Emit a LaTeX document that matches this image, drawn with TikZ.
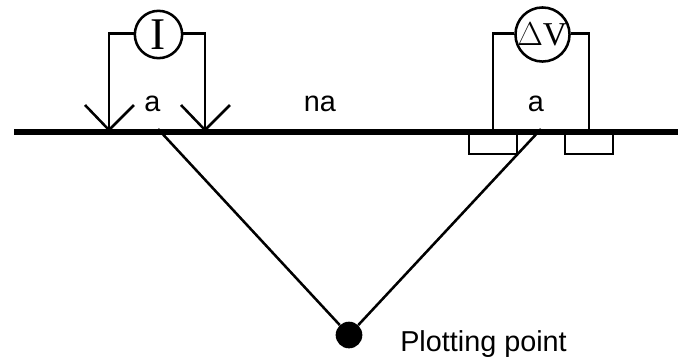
\documentclass[tikz,border=0pt]{standalone}
\usepackage{fontspec}
\setmainfont{Liberation Sans}
\newfontfamily\metfont{Liberation Serif}
\tikzset{
  wire/.style={draw=black,line width=1.9pt},
  ground/.style={draw=black,line width=4.3pt},
  meter/.style={circle,draw=black,line width=1.9pt,fill=white,inner sep=0pt,minimum size=35.5pt,font=\metfont},
  lab/.style={inner sep=0pt,font=\fontsize{21.6pt}{24pt}\selectfont,text=black},
  dot/.style={circle,fill=black,inner sep=0pt,minimum size=20pt}
}
\begin{document}
\begin{tikzpicture}[x=0.75pt,y=-0.75pt]
\useasboundingbox (0,0) rectangle (678,358);
\coordinate (gl) at (14,132.3);
\coordinate (gr) at (678,132.3);
\coordinate (ia) at (109,130);
\coordinate (ib) at (205,130);
\coordinate (ial) at (85,105);
\coordinate (iar) at (134,105);
\coordinate (ibl) at (181,105);
\coordinate (ibr) at (230,105);
\coordinate (ic) at (109,33.5);
\coordinate (id) at (205,33.5);
\coordinate (va) at (493,132);
\coordinate (vb) at (589,132);
\coordinate (vc) at (493,33.5);
\coordinate (vd) at (589,33.5);
\coordinate (ds) at (158,129);
\coordinate (de) at (541,129);
\node[meter] (I) at (158.5,34.5) {\fontsize{34pt}{35pt}\selectfont I};
\node[meter] (V) at (542.5,34.5) {\fontsize{25pt}{26pt}\selectfont\kern-0.5pt$\Delta$V};
\node[dot] (P) at (349,335) {};
\draw[wire] (I.west |- ic) -- (ic) -- (ia);
\draw[wire] (I.east |- id) -- (id) -- (ib);
\draw[wire,line join=miter] (ial) -- (ia) -- (iar);
\draw[wire,line join=miter] (ibl) -- (ib) -- (ibr);
\draw[wire] (V.west |- vc) -- (vc) -- (va);
\draw[wire] (V.east |- vd) -- (vd) -- (vb);
\draw[wire] (469,129) -- (469,154) -- (517,154) -- (517,129);
\draw[wire] (565,129) -- (565,154) -- (613,154) -- (613,129);
\draw[wire] (ds) -- (P);
\draw[wire] (de) -- (P);
\draw[ground] (gl) -- (gr);
\node[lab,anchor=base] (a1) at (152.3,111) {a};
\node[lab,anchor=base] (na) at (320,111) {na};
\node[lab,anchor=base] (a2) at (536,111) {a};
\node[lab,anchor=base west] (pp) at (400,351.5) {Plotting point};
\end{tikzpicture}
\end{document}
